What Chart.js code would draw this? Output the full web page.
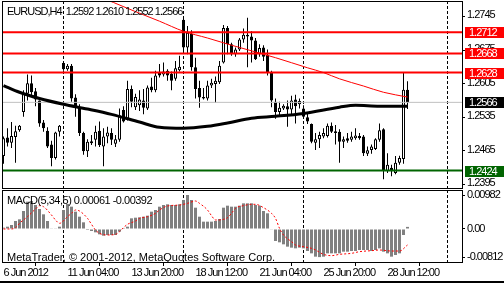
<!DOCTYPE html>
<html>
<head>
<meta charset="utf-8">
<script src="https://cdn.jsdelivr.net/npm/chart.js@4.4.0/dist/chart.umd.min.js"></script>
<style>
  html, body { margin: 0; padding: 0; background: #fff; }
  #wrap { position: relative; width: 504px; height: 283px; overflow: hidden; }
  #priceCanvas { position: absolute; left: 0; top: 0; }
  #macdCanvas { position: absolute; left: 0; top: 189px; }
  #frameBottom { position: absolute; left: 0; top: 281px; width: 504px; height: 2px; background: #000; }
</style>
</head>
<body>
<div id="wrap">
  <canvas id="priceCanvas" width="504" height="189"></canvas>
  <canvas id="macdCanvas" width="504" height="94"></canvas>
  <div id="frameBottom"></div>
</div>
<script>
// EURUSD H4, bars from 6 Jun 2012 12:00 to 29 Jun 2012 08:00
const opens = [
  1.2454, 1.2493, 1.2482, 1.2494, 1.2508, 1.2546, 1.2584, 1.2606, 1.2589, 1.2570,
  1.2524, 1.2507, 1.2478, 1.2450, 1.2505, 1.2648, 1.2635, 1.2642, 1.2576, 1.2555,
  1.2502, 1.2464, 1.2485, 1.2488, 1.2507, 1.2474, 1.2495, 1.2502, 1.2480, 1.2488,
  1.2550, 1.2530, 1.2594, 1.2556, 1.2560, 1.2570, 1.2553, 1.2599, 1.2591, 1.2628,
  1.2624, 1.2632, 1.2625, 1.2615, 1.2633, 1.2738, 1.2680, 1.2709, 1.2639, 1.2596,
  1.2574, 1.2574, 1.2601, 1.2604, 1.2608, 1.2649, 1.2721, 1.2687, 1.2666, 1.2676,
  1.2697, 1.2707, 1.2703, 1.2695, 1.2666, 1.2680, 1.2665, 1.2628, 1.2567, 1.2546,
  1.2553, 1.2558, 1.2551, 1.2572, 1.2562, 1.2553, 1.2535, 1.2521, 1.2482, 1.2489,
  1.2495, 1.2496, 1.2517, 1.2502, 1.2505, 1.2484, 1.2491, 1.2488, 1.2491, 1.2496,
  1.2495, 1.2459, 1.2467, 1.2469, 1.2488, 1.2510, 1.2423, 1.2430, 1.2419, 1.2440,
  1.2448, 1.2592
];
const highs = [
  1.2495, 1.2512, 1.2525, 1.2517, 1.2519, 1.2591, 1.2624, 1.2622, 1.2596, 1.2570,
  1.2529, 1.2514, 1.2486, 1.2505, 1.2519, 1.2651, 1.2646, 1.2646, 1.2583, 1.2562,
  1.2505, 1.2489, 1.2498, 1.2517, 1.2526, 1.2512, 1.2515, 1.2512, 1.2498, 1.2553,
  1.2558, 1.2611, 1.2601, 1.2584, 1.2591, 1.2594, 1.2601, 1.2617, 1.2632, 1.2646,
  1.2649, 1.2635, 1.2630, 1.2652, 1.2663, 1.2742, 1.2725, 1.2716, 1.2659, 1.2611,
  1.2596, 1.2611, 1.2615, 1.2620, 1.2652, 1.2727, 1.2725, 1.2690, 1.2680, 1.2700,
  1.2720, 1.2742, 1.2714, 1.2700, 1.2687, 1.2685, 1.2676, 1.2632, 1.2574, 1.2567,
  1.2562, 1.2570, 1.2580, 1.2582, 1.2574, 1.2560, 1.2543, 1.2522, 1.2502, 1.2505,
  1.2512, 1.2522, 1.2524, 1.2519, 1.2510, 1.2495, 1.2502, 1.2505, 1.2512, 1.2502,
  1.2498, 1.2474, 1.2478, 1.2491, 1.2522, 1.2512, 1.2460, 1.2436, 1.2454, 1.2455,
  1.2628, 1.2610
];
const lows = [
  1.2438, 1.2474, 1.2471, 1.2440, 1.2505, 1.2536, 1.2570, 1.2577, 1.2558, 1.2515,
  1.2505, 1.2471, 1.2433, 1.2447, 1.2495, 1.2632, 1.2632, 1.2567, 1.2536, 1.2496,
  1.2457, 1.2452, 1.2477, 1.2474, 1.2473, 1.2433, 1.2481, 1.2477, 1.2473, 1.2484,
  1.2524, 1.2528, 1.2556, 1.2550, 1.2548, 1.2541, 1.2550, 1.2587, 1.2587, 1.2618,
  1.2620, 1.2611, 1.2591, 1.2611, 1.2630, 1.2668, 1.2666, 1.2632, 1.2574, 1.2555,
  1.2572, 1.2570, 1.2596, 1.2565, 1.2604, 1.2647, 1.2666, 1.2663, 1.2661, 1.2673,
  1.2690, 1.2639, 1.2649, 1.2654, 1.2661, 1.2652, 1.2622, 1.2556, 1.2532, 1.2539,
  1.2550, 1.2515, 1.2539, 1.2522, 1.2553, 1.2532, 1.2521, 1.2481, 1.2467, 1.2471,
  1.2491, 1.2493, 1.2502, 1.2478, 1.2440, 1.2471, 1.2482, 1.2484, 1.2488, 1.2488,
  1.2454, 1.2454, 1.2459, 1.2467, 1.2484, 1.2406, 1.2419, 1.2412, 1.2416, 1.2436,
  1.2438, 1.2552
];
const closes = [
  1.2491, 1.2482, 1.2496, 1.2506, 1.2517, 1.2584, 1.2606, 1.2587, 1.2572, 1.2522,
  1.2512, 1.2474, 1.2450, 1.2503, 1.2517, 1.2635, 1.2642, 1.2574, 1.2555, 1.2502,
  1.2464, 1.2484, 1.2481, 1.2505, 1.2477, 1.2495, 1.2503, 1.2488, 1.2489, 1.2539,
  1.2526, 1.2594, 1.2567, 1.2577, 1.2572, 1.2555, 1.2597, 1.2591, 1.2622, 1.2622,
  1.2630, 1.2622, 1.2611, 1.2637, 1.2640, 1.2680, 1.2711, 1.2639, 1.2594, 1.2576,
  1.2577, 1.2601, 1.2607, 1.2611, 1.2642, 1.2721, 1.2687, 1.2666, 1.2676, 1.2697,
  1.2707, 1.2703, 1.2695, 1.2656, 1.2679, 1.2661, 1.2628, 1.2570, 1.2546, 1.2555,
  1.2559, 1.2551, 1.2570, 1.2558, 1.2569, 1.2536, 1.2526, 1.2484, 1.2489, 1.2498,
  1.2502, 1.2517, 1.2505, 1.2506, 1.2484, 1.2489, 1.2486, 1.2495, 1.2497, 1.2491,
  1.2460, 1.2466, 1.2474, 1.2489, 1.2508, 1.2423, 1.2436, 1.2423, 1.2440, 1.2450,
  1.2592, 1.2566
];

// moving averages, read at a few bar positions
const redMaBars = [26, 27.5, 33, 39, 45, 51, 57, 63, 68, 76, 80, 84, 90, 95, 101];
const redMaValues = [1.2779, 1.2774, 1.2755, 1.2735, 1.2714, 1.2700, 1.2685, 1.2671, 1.2659, 1.2638, 1.2628, 1.2615, 1.2600, 1.2587, 1.2577];
const blackMaBars = [0, 4, 9, 15, 21, 27, 34, 39, 45, 51, 56, 62, 68, 75, 84, 88, 94, 101];
const blackMaValues = [1.2601, 1.2587, 1.2574, 1.2562, 1.2552, 1.2541, 1.2525, 1.2514, 1.2512, 1.2516, 1.2523, 1.2533, 1.2537, 1.2543, 1.2556, 1.2560, 1.2558, 1.2558];

const resistanceLevels = [1.2712, 1.2668, 1.2628];
const bidLevel = 1.2566;
const supportLevel = 1.2424;

const priceTicks = [1.2395, 1.2465, 1.2535, 1.2605, 1.2675, 1.2745];
const separators = [15, 45, 75, 111];
const timeTickBars = [0, 16, 32, 48, 64, 80, 96];
const timeTickLabels = ['6 Jun 2012', '11 Jun 04:00', '13 Jun 20:00', '18 Jun 12:00', '21 Jun 04:00', '25 Jun 20:00', '28 Jun 12:00'];

// MACD(5,34,5)
const macdHist = [
  0.00039, 0.00067, 0.00116, 0.00231, 0.00279, 0.00520, 0.00790, 0.00809, 0.00693, 0.00578,
  0.00424, 0.00231, 0.00019, 0.00019, 0.00067, 0.00549, 0.00722, 0.00645, 0.00501, 0.00356,
  0.00193, -0.00029, -0.00058, -0.00096, -0.00154, -0.00193, -0.00173, -0.00173, -0.00173, -0.00077,
  0.00005, 0.00067, 0.00308, 0.00327, 0.00337, 0.00356, 0.00385, 0.00501, 0.00549, 0.00645,
  0.00693, 0.00713, 0.00693, 0.00693, 0.00713, 0.00838, 0.00982, 0.00838, 0.00616, 0.00356,
  0.00212, 0.00212, 0.00212, 0.00231, 0.00289, 0.00616, 0.00674, 0.00645, 0.00645, 0.00674,
  0.00741, 0.00741, 0.00741, 0.00693, 0.00674, 0.00520, 0.00453, -0.00010, -0.00347, -0.00385,
  -0.00443, -0.00510, -0.00539, -0.00559, -0.00539, -0.00559, -0.00636, -0.00703, -0.00799, -0.00812,
  -0.00799, -0.00703, -0.00703, -0.00703, -0.00703, -0.00655, -0.00655, -0.00636, -0.00636, -0.00607,
  -0.00607, -0.00607, -0.00636, -0.00607, -0.00559, -0.00655, -0.00703, -0.00799, -0.00751, -0.00703,
  -0.00173, 0.00061
];
const signalBars = [0, 2, 3, 4, 6, 8, 9, 10, 12, 13, 14, 16, 17, 18, 19, 21, 22, 23, 24, 26,
  28, 29, 30, 31, 33, 34, 36, 38, 39, 41, 44, 46, 48, 49, 51, 52, 53, 55, 56, 57,
  58, 60, 62, 63, 65, 67, 68, 69, 70, 72, 73, 75, 77, 78, 80, 82, 84, 87, 89, 92,
  94, 97, 99, 101];
const signalValues = [0, 0, 0.00039, 0.00164, 0.00356, 0.00578, 0.00674, 0.00645, 0.00404, 0.00260,
  0.00164, 0.00356, 0.00453, 0.00549, 0.00520, 0.00308, 0.00135, -0.00029, -0.00125, -0.00173,
  -0.00154, -0.00077, 0.00039, 0.00135, 0.00231, 0.00308, 0.00356, 0.00453, 0.00549, 0.00664,
  0.00693, 0.00741, 0.00809, 0.00741, 0.00549, 0.00385, 0.00260, 0.00279, 0.00327, 0.00453,
  0.00597, 0.00674, 0.00713, 0.00713, 0.00616, 0.00453, 0.00308, 0.00019, -0.00173, -0.00366,
  -0.00462, -0.00510, -0.00559, -0.00607, -0.00732, -0.00770, -0.00732, -0.00703, -0.00655, -0.00626,
  -0.00607, -0.00636, -0.00636, -0.00462];
const macdTicks = [0.00982, 0, -0.00812];
const macdTickLabels = ['0.00982', '0.00', '-0.00812'];

const headerText = 'EURUSD,H4  1.2592 1.2610 1.2552 1.2566';
const macdText = 'MACD(5,34,5) 0.00061 -0.00392';
const copyrightText = 'MetaTrader, \u00a9 2001-2012, MetaQuotes Software Corp.';

const FONT = '"Liberation Sans", Arial, sans-serif';
const X_MIN = -0.375, X_MAX = 114.625;
const PRICE_MIN = 1.23876, PRICE_MAX = 1.27771;
const MACD_MIN = -0.009532, MACD_MAX = 0.011265;

Chart.defaults.font.family = FONT;
Chart.defaults.font.size = 11;
Chart.defaults.color = '#000';

// fixed axis size, and no extra padding asked from the layout
function axisFit(size, vertical) {
  return function (scale) {
    if (vertical) scale.width = size; else scale.height = size;
    scale.paddingLeft = 0; scale.paddingRight = 0;
    scale.paddingTop = 0; scale.paddingBottom = 0;
  };
}

// MT4's terminal font has narrow digits, tighten the tick labels a bit
const tightText = {
  id: 'tightText',
  beforeDraw(chart) { chart.ctx.letterSpacing = '-1px'; }
};

const panelFrame = {
  id: 'panelFrame',
  afterDraw(chart) {
    const { ctx, chartArea: a } = chart;
    ctx.save();
    ctx.strokeStyle = '#000';
    ctx.lineWidth = 1;
    ctx.strokeRect(Math.round(a.left) + 0.5, Math.round(a.top) + 0.5,
      Math.round(a.right - a.left), Math.round(a.bottom - a.top));
    ctx.restore();
  }
};

const separatorLines = {
  id: 'separatorLines',
  beforeDatasetsDraw(chart) {
    const { ctx, chartArea: a } = chart;
    const xs = chart.scales.x;
    ctx.save();
    ctx.strokeStyle = '#000';
    ctx.lineWidth = 1;
    ctx.setLineDash([3, 2]);
    separators.forEach(v => {
      const px = Math.floor(xs.getPixelForValue(v)) + 0.5;
      ctx.beginPath();
      ctx.moveTo(px, a.top);
      ctx.lineTo(px, a.bottom);
      ctx.stroke();
    });
    ctx.restore();
  }
};

const panelText = {
  id: 'panelText',
  afterDraw(chart, args, opts) {
    const ctx = chart.ctx;
    (opts.items || []).forEach(t => {
      ctx.save();
      ctx.font = '11px ' + FONT;
      ctx.letterSpacing = t.spacing || '0px';
      ctx.fillStyle = '#000';
      ctx.textAlign = 'left';
      ctx.textBaseline = 'alphabetic';
      ctx.fillText(t.text, t.x, t.y);
      ctx.restore();
    });
  }
};

const priceTags = {
  id: 'priceTags',
  afterDraw(chart) {
    const ctx = chart.ctx;
    const ys = chart.scales.y;
    const tags = [
      [resistanceLevels[0], '#ff0000'],
      [resistanceLevels[1], '#ff0000'],
      [resistanceLevels[2], '#ff0000'],
      [bidLevel, '#000000'],
      [supportLevel, '#006400']
    ];
    ctx.save();
    ctx.font = '11px ' + FONT;
    ctx.letterSpacing = '-1px';
    ctx.textAlign = 'left';
    ctx.textBaseline = 'middle';
    tags.forEach(([v, color]) => {
      const py = Math.round(ys.getPixelForValue(v));
      ctx.fillStyle = color;
      ctx.fillRect(465, py - 5, 39, 11);
      ctx.fillStyle = '#fff';
      ctx.fillText(v.toFixed(4), 469, py + 1);
    });
    ctx.restore();
  }
};

function levelLine(v, color, width) {
  return {
    type: 'line',
    data: [{ x: X_MIN, y: v }, { x: X_MAX, y: v }],
    borderColor: color,
    borderWidth: width,
    pointRadius: 0
  };
}

function init() {
  const idx = opens.map((_, i) => i);

  new Chart(document.getElementById('priceCanvas'), {
    type: 'bar',
    data: {
      datasets: [
        {
          type: 'line',
          data: redMaBars.map((b, k) => ({ x: b, y: redMaValues[k] })),
          borderColor: '#ff0000', borderWidth: 1, pointRadius: 0,
          cubicInterpolationMode: 'monotone'
        },
        {
          type: 'line',
          data: blackMaBars.map((b, k) => ({ x: b, y: blackMaValues[k] })),
          borderColor: '#000', borderWidth: 3, pointRadius: 0,
          cubicInterpolationMode: 'monotone'
        },
        levelLine(resistanceLevels[0], '#ff0000', 2),
        levelLine(resistanceLevels[1], '#ff0000', 2),
        levelLine(resistanceLevels[2], '#ff0000', 2),
        levelLine(bidLevel, '#c0c0c0', 1),
        levelLine(supportLevel, '#006400', 2),
        {
          data: idx.map(i => ({ x: i, y: [opens[i], closes[i]] })),
          backgroundColor: idx.map(i => closes[i] >= opens[i] ? '#fff' : '#000'),
          borderColor: '#000', borderWidth: 1, borderSkipped: false,
          barThickness: 3, grouped: false, minBarLength: 1, inflateAmount: 0
        },
        {
          data: idx.map(i => ({ x: i, y: [lows[i], highs[i]] })),
          backgroundColor: '#000', borderWidth: 0,
          barThickness: 1, grouped: false, inflateAmount: 0
        }
      ]
    },
    options: {
      responsive: false,
      animation: false,
      devicePixelRatio: 1,
      events: [],
      layout: { padding: { left: 2, top: 1, right: 0, bottom: 1 } },
      plugins: {
        legend: { display: false },
        tooltip: { enabled: false },
        panelText: { items: [{ text: headerText, x: 7, y: 15, spacing: '-1px' }] }
      },
      scales: {
        x: { type: 'linear', display: false, min: X_MIN, max: X_MAX, offset: false },
        y: {
          type: 'linear', position: 'right', min: PRICE_MIN, max: PRICE_MAX,
          afterBuildTicks: s => { s.ticks = priceTicks.map(v => ({ value: v })); },
          afterFit: axisFit(42, true),
          border: { display: false },
          grid: { drawOnChartArea: false, drawTicks: true, tickLength: 3, color: '#000' },
          ticks: { color: '#000', padding: 2, labelOffset: -1, callback: v => v.toFixed(4) }
        }
      }
    },
    plugins: [tightText, separatorLines, panelFrame, priceTags, panelText]
  });

  new Chart(document.getElementById('macdCanvas'), {
    type: 'bar',
    data: {
      datasets: [
        {
          type: 'line',
          data: signalBars.map((b, k) => ({ x: b, y: signalValues[k] })),
          borderColor: '#ff0000', borderWidth: 1, borderDash: [2, 2], pointRadius: 0,
          cubicInterpolationMode: 'monotone'
        },
        {
          data: macdHist.map((v, i) => ({ x: i, y: v })),
          backgroundColor: '#808080', borderWidth: 0,
          barThickness: 3, grouped: false, inflateAmount: 0
        }
      ]
    },
    options: {
      responsive: false,
      animation: false,
      devicePixelRatio: 1,
      events: [],
      layout: { padding: { left: 2, top: 1, right: 0, bottom: 0 } },
      plugins: {
        legend: { display: false },
        tooltip: { enabled: false },
        panelText: {
          items: [
            { text: macdText, x: 7, y: 15, spacing: '-0.5px' },
            { text: copyrightText, x: 7, y: 72 }
          ]
        }
      },
      scales: {
        x: {
          type: 'linear', position: 'bottom', min: X_MIN, max: X_MAX, offset: false,
          afterBuildTicks: s => { s.ticks = timeTickBars.map(v => ({ value: v })); },
          afterFit: axisFit(21, false),
          border: { display: false },
          grid: { drawOnChartArea: false, drawTicks: true, tickLength: 4, color: '#000' },
          ticks: {
            color: '#000', align: 'start', maxRotation: 0, autoSkip: false, padding: 0,
            callback: (v, k) => timeTickLabels[k]
          }
        },
        y: {
          type: 'linear', position: 'right', min: MACD_MIN, max: MACD_MAX,
          afterBuildTicks: s => { s.ticks = macdTicks.map(v => ({ value: v })); },
          afterFit: axisFit(42, true),
          border: { display: false },
          grid: { drawOnChartArea: false, drawTicks: true, tickLength: 3, color: '#000' },
          ticks: { color: '#000', padding: 2, callback: (v, k) => macdTickLabels[k] }
        }
      }
    },
    plugins: [tightText, separatorLines, panelFrame, panelText]
  });
}

document.addEventListener('DOMContentLoaded', init);
</script>
</body>
</html>
